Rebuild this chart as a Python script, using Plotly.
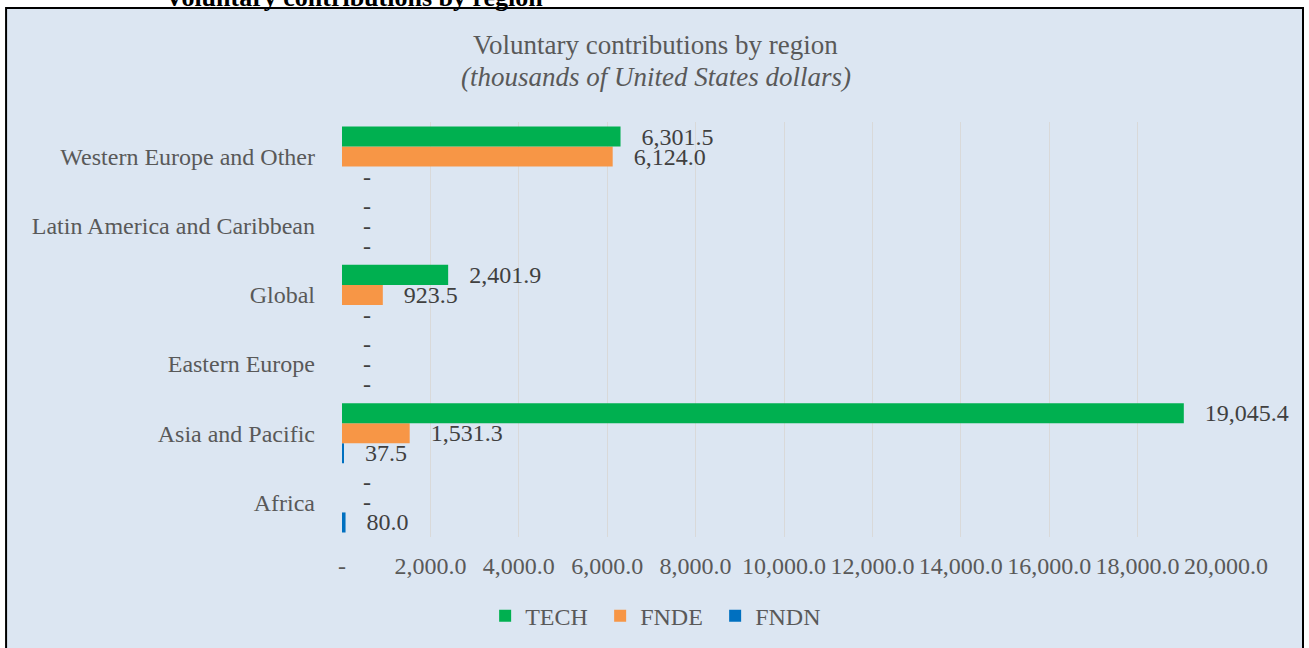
import plotly.graph_objects as go

regions = ["Africa", "Asia and Pacific", "Eastern Europe", "Global",
           "Latin America and Caribbean", "Western Europe and Other"]
tech = [0, 19045.4, 0, 2401.9, 0, 6301.5]
fnde = [0, 1531.3, 0, 923.5, 0, 6124.0]
fndn = [80.0, 37.5, 0, 0, 0, 0]
x_ticks = [0, 2000, 4000, 6000, 8000, 10000, 12000, 14000, 16000, 18000, 20000]
x_tick_text = ["-", "2,000.0", "4,000.0", "6,000.0", "8,000.0", "10,000.0",
               "12,000.0", "14,000.0", "16,000.0", "18,000.0", "20,000.0"]

FONT = "Liberation Serif, Times New Roman, serif"
PAD = "\u00a0\u00a0\u00a0"


def lab(v):
    return PAD + ("-" if v == 0 else f"{v:,.1f}")


fig = go.Figure()
for name, vals, color in [("FNDN", fndn, "#0070c0"),
                          ("FNDE", fnde, "#f79646"),
                          ("TECH", tech, "#00b050")]:
    fig.add_trace(go.Bar(
        y=regions, x=vals, name=name, orientation="h",
        marker=dict(color=color, line=dict(width=0)),
        text=[lab(v) for v in vals], textposition="outside",
        textfont=dict(family=FONT, size=24, color="#404040"),
        constraintext="none", cliponaxis=False,
    ))

fig.update_layout(
    width=1309, height=648,
    margin=dict(l=342, r=83, t=122, b=111),
    paper_bgcolor="white",
    plot_bgcolor="rgba(0,0,0,0)",
    barmode="group", bargap=0.13, bargroupgap=0,
    font=dict(family=FONT, color="#595959", size=24),
    showlegend=True,
    legend=dict(orientation="h", traceorder="reversed",
                xref="container", yref="container",
                x=0.5024, xanchor="center", y=0.049, yanchor="middle",
                entrywidth=70, entrywidthmode="pixels",
                font=dict(family=FONT, size=24, color="#595959"),
                bgcolor="rgba(0,0,0,0)"),
    xaxis=dict(range=[0, 20000], tickvals=x_ticks, ticktext=x_tick_text,
               showgrid=True, gridcolor="#d9d9d9", gridwidth=1,
               zeroline=False, showline=False, ticks="",
               tickfont=dict(family=FONT, size=24, color="#595959"),
               ticklabelstandoff=12, fixedrange=True),
    yaxis=dict(showgrid=False, zeroline=False, showline=False, ticks="",
               tickfont=dict(family=FONT, size=24, color="#595959"),
               ticklabelstandoff=26, fixedrange=True),
    shapes=[dict(type="rect", xref="paper", yref="paper",
                 x0=-0.380, x1=1.0871, y0=-0.35, y1=1.2747,
                 fillcolor="#dce6f2", line=dict(color="black", width=2),
                 layer="below")],
    annotations=[
        dict(text="Voluntary contributions by region", xref="paper", yref="paper",
             x=0.355, y=1.1855, xanchor="center", yanchor="middle", showarrow=False,
             font=dict(family=FONT, size=27, color="#595959")),
        dict(text="<i>(thousands of United States dollars)</i>", xref="paper", yref="paper",
             x=0.355, y=1.108, xanchor="center", yanchor="middle", showarrow=False,
             font=dict(family=FONT, size=27, color="#595959")),
        dict(text="<b>Voluntary contributions by region</b>", xref="paper", yref="paper",
             x=0.0136, y=1.301, xanchor="center", yanchor="middle", showarrow=False,
             font=dict(family=FONT, size=26, color="black")),
    ],
)

fig.write_html("out.html", config={"displayModeBar": False},
               post_script="document.body.style.margin='0';")
